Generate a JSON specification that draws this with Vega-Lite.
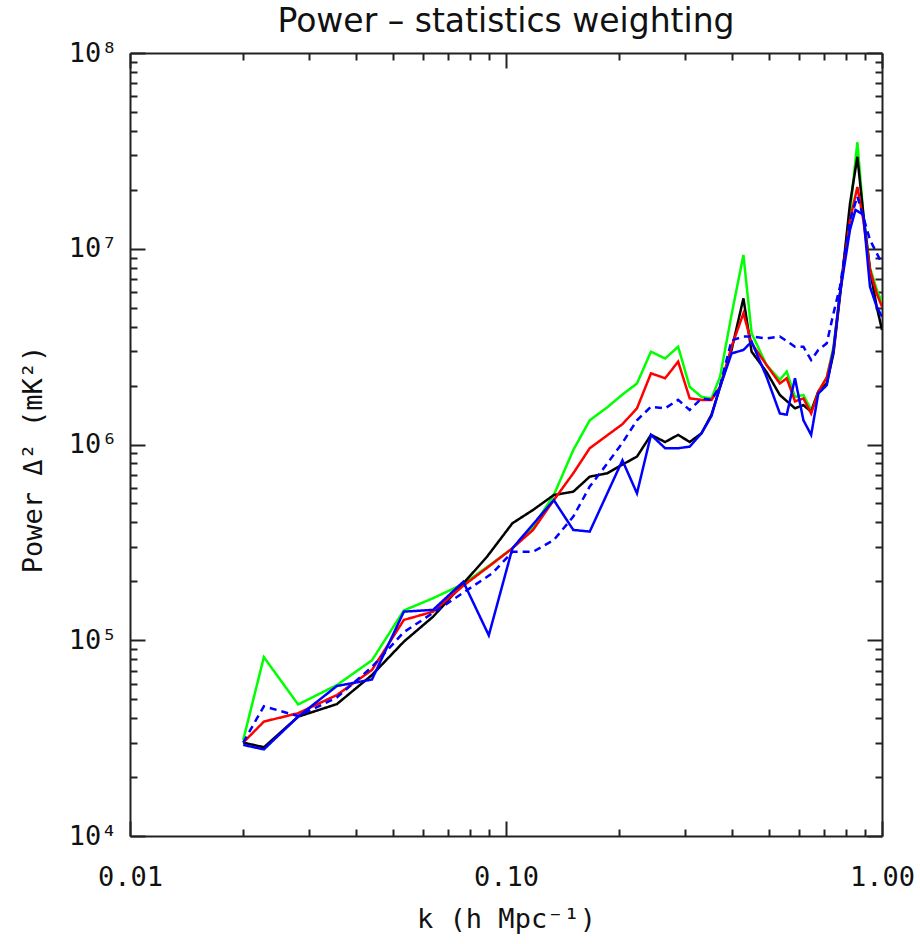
{
  "$schema": "https://vega.github.io/schema/vega-lite/v6.json",
  "autosize": "none",
  "padding": {"left": 130, "top": 53, "right": 38, "bottom": 108},
  "width": 752,
  "height": 783,
  "background": "white",
  "title": {"text": "Power – statistics weighting", "font": "DejaVu Sans", "fontSize": 33, "fontWeight": "normal", "color": "#111", "anchor": "middle", "baseline": "alphabetic", "offset": -26},
  "config": {"view": {"stroke": null}},
  "datasets": {
    "pw": [
      {"s":"green","k":0.020,"p":30900},{"s":"green","k":0.0227,"p":82000},{"s":"green","k":0.028,"p":47000},{"s":"green","k":0.0355,"p":59000},{"s":"green","k":0.044,"p":79000},{"s":"green","k":0.0535,"p":142000},{"s":"green","k":0.064,"p":164000},{"s":"green","k":0.077,"p":194000},{"s":"green","k":0.090,"p":240000},{"s":"green","k":0.104,"p":295000},{"s":"green","k":0.118,"p":380000},{"s":"green","k":0.134,"p":552000},{"s":"green","k":0.151,"p":937000},{"s":"green","k":0.167,"p":1330000},{"s":"green","k":0.186,"p":1550000},{"s":"green","k":0.204,"p":1800000},{"s":"green","k":0.223,"p":2050000},{"s":"green","k":0.243,"p":2980000},{"s":"green","k":0.265,"p":2750000},{"s":"green","k":0.287,"p":3160000},{"s":"green","k":0.308,"p":1970000},{"s":"green","k":0.331,"p":1750000},{"s":"green","k":0.352,"p":1720000},{"s":"green","k":0.371,"p":2220000},{"s":"green","k":0.398,"p":4600000},{"s":"green","k":0.428,"p":9300000},{"s":"green","k":0.450,"p":3700000},{"s":"green","k":0.493,"p":2550000},{"s":"green","k":0.535,"p":2140000},{"s":"green","k":0.558,"p":2360000},{"s":"green","k":0.587,"p":1750000},{"s":"green","k":0.618,"p":1790000},{"s":"green","k":0.648,"p":1500000},{"s":"green","k":0.677,"p":1860000},{"s":"green","k":0.713,"p":2200000},{"s":"green","k":0.743,"p":3160000},{"s":"green","k":0.773,"p":5900000},{"s":"green","k":0.822,"p":15200000},{"s":"green","k":0.860,"p":35000000},{"s":"green","k":0.892,"p":15000000},{"s":"green","k":0.929,"p":8000000},{"s":"green","k":0.968,"p":6200000},{"s":"green","k":1.0,"p":5300000},

      {"s":"black","k":0.020,"p":30000},{"s":"black","k":0.0227,"p":28400},{"s":"black","k":0.028,"p":40700},{"s":"black","k":0.0355,"p":47200},{"s":"black","k":0.044,"p":66400},{"s":"black","k":0.0535,"p":98400},{"s":"black","k":0.064,"p":132000},{"s":"black","k":0.077,"p":195000},{"s":"black","k":0.089,"p":267000},{"s":"black","k":0.104,"p":396000},{"s":"black","k":0.118,"p":463000},{"s":"black","k":0.134,"p":552000},{"s":"black","k":0.151,"p":574000},{"s":"black","k":0.167,"p":685000},{"s":"black","k":0.186,"p":713000},{"s":"black","k":0.204,"p":790000},{"s":"black","k":0.223,"p":867000},{"s":"black","k":0.243,"p":1120000},{"s":"black","k":0.265,"p":1030000},{"s":"black","k":0.287,"p":1120000},{"s":"black","k":0.308,"p":1030000},{"s":"black","k":0.331,"p":1140000},{"s":"black","k":0.352,"p":1420000},{"s":"black","k":0.371,"p":1970000},{"s":"black","k":0.398,"p":3040000},{"s":"black","k":0.428,"p":5580000},{"s":"black","k":0.450,"p":2980000},{"s":"black","k":0.493,"p":2350000},{"s":"black","k":0.535,"p":1790000},{"s":"black","k":0.587,"p":1530000},{"s":"black","k":0.618,"p":1590000},{"s":"black","k":0.648,"p":1470000},{"s":"black","k":0.677,"p":1860000},{"s":"black","k":0.713,"p":2050000},{"s":"black","k":0.743,"p":2920000},{"s":"black","k":0.773,"p":5700000},{"s":"black","k":0.822,"p":17000000},{"s":"black","k":0.860,"p":29500000},{"s":"black","k":0.892,"p":15000000},{"s":"black","k":0.929,"p":7800000},{"s":"black","k":0.968,"p":5060000},{"s":"black","k":1.0,"p":3850000},

      {"s":"red","k":0.020,"p":30000},{"s":"red","k":0.0227,"p":38400},{"s":"red","k":0.028,"p":42400},{"s":"red","k":0.0355,"p":52500},{"s":"red","k":0.044,"p":70500},{"s":"red","k":0.0535,"p":127000},{"s":"red","k":0.064,"p":140000},{"s":"red","k":0.077,"p":190000},{"s":"red","k":0.090,"p":238000},{"s":"red","k":0.104,"p":295000},{"s":"red","k":0.118,"p":366000},{"s":"red","k":0.134,"p":520000},{"s":"red","k":0.151,"p":713000},{"s":"red","k":0.167,"p":957000},{"s":"red","k":0.204,"p":1270000},{"s":"red","k":0.223,"p":1530000},{"s":"red","k":0.243,"p":2310000},{"s":"red","k":0.265,"p":2180000},{"s":"red","k":0.287,"p":2650000},{"s":"red","k":0.308,"p":1720000},{"s":"red","k":0.331,"p":1690000},{"s":"red","k":0.352,"p":1690000},{"s":"red","k":0.371,"p":1970000},{"s":"red","k":0.398,"p":3160000},{"s":"red","k":0.428,"p":4680000},{"s":"red","k":0.450,"p":3290000},{"s":"red","k":0.493,"p":2550000},{"s":"red","k":0.535,"p":2050000},{"s":"red","k":0.558,"p":2180000},{"s":"red","k":0.587,"p":1660000},{"s":"red","k":0.618,"p":1720000},{"s":"red","k":0.648,"p":1440000},{"s":"red","k":0.677,"p":1860000},{"s":"red","k":0.713,"p":2200000},{"s":"red","k":0.743,"p":3040000},{"s":"red","k":0.773,"p":5900000},{"s":"red","k":0.822,"p":14000000},{"s":"red","k":0.860,"p":20700000},{"s":"red","k":0.892,"p":14000000},{"s":"red","k":0.929,"p":7800000},{"s":"red","k":0.968,"p":5900000},{"s":"red","k":1.0,"p":5060000},

      {"s":"dash","k":0.020,"p":30000},{"s":"dash","k":0.0227,"p":46000},{"s":"dash","k":0.028,"p":41000},{"s":"dash","k":0.0355,"p":51000},{"s":"dash","k":0.044,"p":73000},{"s":"dash","k":0.0535,"p":110000},{"s":"dash","k":0.064,"p":138000},{"s":"dash","k":0.077,"p":175000},{"s":"dash","k":0.092,"p":220000},{"s":"dash","k":0.104,"p":283000},{"s":"dash","k":0.118,"p":283000},{"s":"dash","k":0.134,"p":325000},{"s":"dash","k":0.151,"p":428000},{"s":"dash","k":0.167,"p":610000},{"s":"dash","k":0.186,"p":800000},{"s":"dash","k":0.204,"p":1020000},{"s":"dash","k":0.223,"p":1330000},{"s":"dash","k":0.243,"p":1560000},{"s":"dash","k":0.265,"p":1530000},{"s":"dash","k":0.287,"p":1690000},{"s":"dash","k":0.308,"p":1500000},{"s":"dash","k":0.331,"p":1720000},{"s":"dash","k":0.352,"p":1690000},{"s":"dash","k":0.371,"p":2000000},{"s":"dash","k":0.398,"p":3400000},{"s":"dash","k":0.428,"p":3560000},{"s":"dash","k":0.450,"p":3560000},{"s":"dash","k":0.493,"p":3480000},{"s":"dash","k":0.535,"p":3560000},{"s":"dash","k":0.587,"p":3160000},{"s":"dash","k":0.618,"p":3160000},{"s":"dash","k":0.648,"p":2700000},{"s":"dash","k":0.677,"p":3040000},{"s":"dash","k":0.713,"p":3290000},{"s":"dash","k":0.743,"p":4680000},{"s":"dash","k":0.773,"p":6400000},{"s":"dash","k":0.822,"p":14000000},{"s":"dash","k":0.860,"p":18500000},{"s":"dash","k":0.929,"p":11100000},{"s":"dash","k":1.0,"p":8400000},

      {"s":"blue","k":0.020,"p":29200},{"s":"blue","k":0.0227,"p":27700},{"s":"blue","k":0.028,"p":40700},{"s":"blue","k":0.0355,"p":58400},{"s":"blue","k":0.044,"p":63000},{"s":"blue","k":0.0535,"p":140000},{"s":"blue","k":0.064,"p":143000},{"s":"blue","k":0.077,"p":199000},{"s":"blue","k":0.090,"p":106000},{"s":"blue","k":0.104,"p":295000},{"s":"blue","k":0.134,"p":520000},{"s":"blue","k":0.151,"p":366000},{"s":"blue","k":0.167,"p":359000},{"s":"blue","k":0.204,"p":830000},{"s":"blue","k":0.223,"p":563000},{"s":"blue","k":0.243,"p":1120000},{"s":"blue","k":0.265,"p":957000},{"s":"blue","k":0.287,"p":957000},{"s":"blue","k":0.308,"p":975000},{"s":"blue","k":0.331,"p":1140000},{"s":"blue","k":0.352,"p":1400000},{"s":"blue","k":0.371,"p":1970000},{"s":"blue","k":0.398,"p":2920000},{"s":"blue","k":0.428,"p":3040000},{"s":"blue","k":0.450,"p":3350000},{"s":"blue","k":0.493,"p":2220000},{"s":"blue","k":0.535,"p":1440000},{"s":"blue","k":0.558,"p":1420000},{"s":"blue","k":0.587,"p":2180000},{"s":"blue","k":0.618,"p":1330000},{"s":"blue","k":0.648,"p":1120000},{"s":"blue","k":0.677,"p":1820000},{"s":"blue","k":0.713,"p":2010000},{"s":"blue","k":0.743,"p":3040000},{"s":"blue","k":0.773,"p":5900000},{"s":"blue","k":0.822,"p":12500000},{"s":"blue","k":0.850,"p":15800000},{"s":"blue","k":0.892,"p":14900000},{"s":"blue","k":0.929,"p":6400000},{"s":"blue","k":0.968,"p":5060000},{"s":"blue","k":1.0,"p":4500000}
    ]
  },
  "layer": [
    {
      "data": {"name": "pw"},
      "mark": {"type": "line", "strokeWidth": 2.5, "clip": true},
      "encoding": {
        "x": {"field": "k", "type": "quantitative",
              "scale": {"type": "log", "domain": [0.01, 1], "nice": false},
              "axis": {"orient": "bottom", "values": [0.01, 0.1, 1], "labelExpr": "format(datum.value, '.2f')",
                       "ticks": false, "tickSize": 0, "grid": false, "domain": true, "domainColor": "#222", "domainWidth": 2,
                       "labelFont": "DejaVu Sans Mono", "labelFontSize": 27, "labelColor": "#111", "labelBaseline": "alphabetic", "labelPadding": 49,
                       "labelFlush": false, "labelOverlap": false,
                       "title": "k (h Mpc⁻¹)", "titleFont": "DejaVu Sans Mono", "titleFontSize": 27, "titleFontWeight": "normal", "titleColor": "#111",
                       "titleBaseline": "alphabetic", "titleY": 91}},
        "y": {"field": "p", "type": "quantitative",
              "scale": {"type": "log", "domain": [10000, 100000000], "nice": false},
              "axis": {"orient": "left", "values": [10000, 100000, 1000000, 10000000, 100000000],
                       "labelExpr": "datum.value < 50000 ? '10⁴' : datum.value < 500000 ? '10⁵' : datum.value < 5000000 ? '10⁶' : datum.value < 50000000 ? '10⁷' : '10⁸'",
                       "ticks": false, "tickSize": 0, "grid": false, "domain": true, "domainColor": "#222", "domainWidth": 2,
                       "labelFont": "DejaVu Sans Mono", "labelFontSize": 27, "labelColor": "#111", "labelBaseline": "middle", "labelPadding": 13,
                       "labelFlush": false, "labelOverlap": false,
                       "title": "Power Δ² (mK²)", "titleFont": "DejaVu Sans Mono", "titleFontSize": 27, "titleFontWeight": "normal", "titleColor": "#111",
                       "titleBaseline": "alphabetic", "titleX": -89, "titleY": 406, "titleAngle": -90}},
        "color": {"field": "s", "type": "nominal", "legend": null,
                  "scale": {"domain": ["green", "black", "red", "dash", "blue"], "range": ["#00ff00", "#000000", "#ff0000", "#0000ff", "#0000ff"]}},
        "strokeDash": {"field": "s", "type": "nominal", "legend": null,
                  "scale": {"domain": ["green", "black", "red", "dash", "blue"], "range": [[1, 0], [1, 0], [1, 0], [7, 5], [1, 0]]}}
      }
    },
    {
      "data": {"name": "pw"},
      "mark": {"type": "point", "opacity": 0, "size": 0},
      "encoding": {
        "x": {"field": "k", "type": "quantitative",
              "axis": {"orient": "bottom", "values": [0.01, 0.1, 1], "labels": false, "tickSize": -15, "tickColor": "#222", "tickWidth": 2, "domain": false, "grid": false, "title": null}},
        "y": {"field": "p", "type": "quantitative",
              "axis": {"orient": "left", "values": [10000, 100000, 1000000, 10000000, 100000000], "labels": false, "tickSize": -15, "tickColor": "#222", "tickWidth": 2, "domain": false, "grid": false, "title": null}}
      }
    },
    {
      "data": {"name": "pw"},
      "mark": {"type": "point", "opacity": 0, "size": 0},
      "encoding": {
        "x": {"field": "k", "type": "quantitative",
              "axis": {"orient": "bottom", "values": [0.02, 0.03, 0.04, 0.05, 0.06, 0.07, 0.08, 0.09, 0.2, 0.3, 0.4, 0.5, 0.6, 0.7, 0.8, 0.9], "labels": false, "tickSize": -7, "tickColor": "#222", "tickWidth": 2, "domain": false, "grid": false, "title": null}},
        "y": {"field": "p", "type": "quantitative",
              "axis": {"orient": "left", "values": [20000, 30000, 40000, 50000, 60000, 70000, 80000, 90000, 200000, 300000, 400000, 500000, 600000, 700000, 800000, 900000, 2000000, 3000000, 4000000, 5000000, 6000000, 7000000, 8000000, 9000000, 20000000, 30000000, 40000000, 50000000, 60000000, 70000000, 80000000, 90000000], "labels": false, "tickSize": -7, "tickColor": "#222", "tickWidth": 2, "domain": false, "grid": false, "title": null}}
      }
    },
    {
      "data": {"name": "pw"},
      "mark": {"type": "point", "opacity": 0, "size": 0},
      "encoding": {
        "x": {"field": "k", "type": "quantitative",
              "axis": {"orient": "top", "values": [0.01, 0.1, 1], "labels": false, "tickSize": -15, "tickColor": "#222", "tickWidth": 2, "domain": true, "domainColor": "#222", "domainWidth": 2, "grid": false, "title": null}},
        "y": {"field": "p", "type": "quantitative",
              "axis": {"orient": "right", "values": [10000, 100000, 1000000, 10000000, 100000000], "labels": false, "tickSize": -15, "tickColor": "#222", "tickWidth": 2, "domain": true, "domainColor": "#222", "domainWidth": 2, "grid": false, "title": null}}
      }
    },
    {
      "data": {"name": "pw"},
      "mark": {"type": "point", "opacity": 0, "size": 0},
      "encoding": {
        "x": {"field": "k", "type": "quantitative",
              "axis": {"orient": "top", "values": [0.02, 0.03, 0.04, 0.05, 0.06, 0.07, 0.08, 0.09, 0.2, 0.3, 0.4, 0.5, 0.6, 0.7, 0.8, 0.9], "labels": false, "tickSize": -7, "tickColor": "#222", "tickWidth": 2, "domain": false, "grid": false, "title": null}},
        "y": {"field": "p", "type": "quantitative",
              "axis": {"orient": "right", "values": [20000, 30000, 40000, 50000, 60000, 70000, 80000, 90000, 200000, 300000, 400000, 500000, 600000, 700000, 800000, 900000, 2000000, 3000000, 4000000, 5000000, 6000000, 7000000, 8000000, 9000000, 20000000, 30000000, 40000000, 50000000, 60000000, 70000000, 80000000, 90000000], "labels": false, "tickSize": -7, "tickColor": "#222", "tickWidth": 2, "domain": false, "grid": false, "title": null}}
      }
    }
  ],
  "resolve": {"axis": {"x": "independent", "y": "independent"}}
}
